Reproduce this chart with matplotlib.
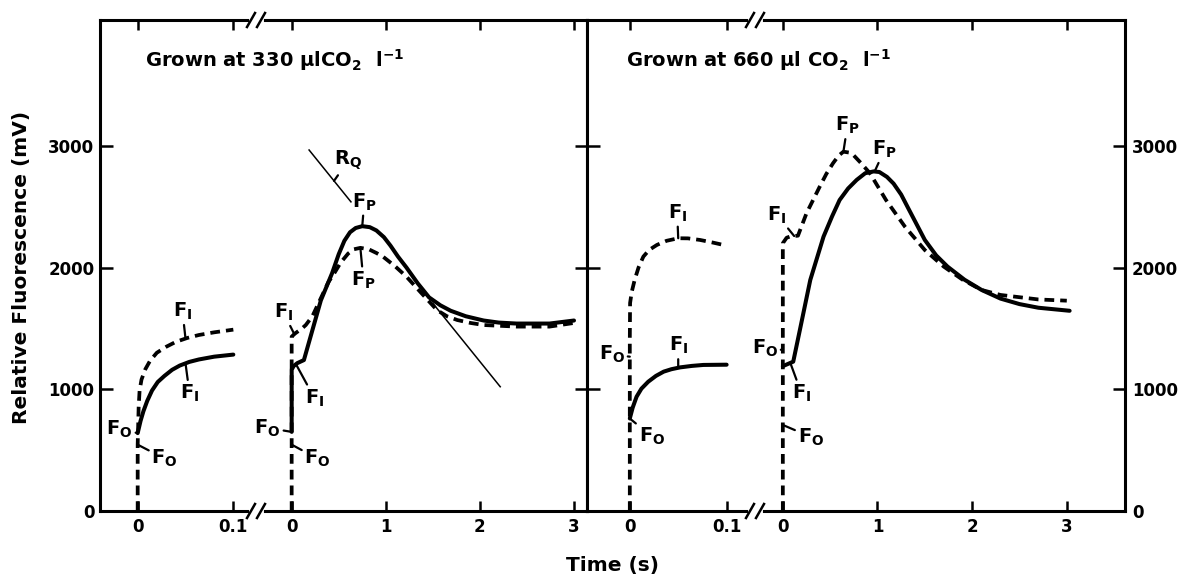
import numpy as np
import matplotlib
matplotlib.use('Agg')
from matplotlib import pyplot as plt
from matplotlib.lines import Line2D

plt.rc('font', family='DejaVu Sans', weight='bold', size=12)
plt.rc('mathtext', fontset='custom', rm='DejaVu Sans:bold',
       it='DejaVu Sans:bold', bf='DejaVu Sans:bold', sf='DejaVu Sans:bold')

# ---- data (time in s, fluorescence in mV) ----
# grown at 330 ul CO2 / l, fast sweep (0 - 0.1 s)
t330_fast_solid = [0, 0.003, 0.006, 0.01, 0.015, 0.021, 0.028, 0.036, 0.044,
                   0.054, 0.064, 0.08, 0.1]
f330_fast_solid = [640, 740, 820, 905, 990, 1060, 1110, 1160, 1195,
                   1225, 1245, 1268, 1285]
t330_fast_dash = [0, 0, 0.001, 0.002, 0.004, 0.008, 0.013, 0.02, 0.03, 0.04,
                  0.052, 0.064, 0.08, 0.1]
f330_fast_dash = [0, 545, 850, 990, 1080, 1165, 1235, 1300, 1350, 1390,
                  1422, 1446, 1468, 1490]
# grown at 330, slow sweep (0 - 3 s)
t330_slow_solid = [0, 0, 0.02, 0.06, 0.13, 0.31, 0.43, 0.50, 0.56, 0.62, 0.68,
                   0.75, 0.83, 0.90, 0.98, 1.05, 1.13, 1.22, 1.34, 1.46, 1.58,
                   1.69, 1.85, 2.04, 2.2, 2.39, 2.74, 3.0]
f330_slow_solid = [650, 1160, 1190, 1215, 1240, 1730, 1955, 2110, 2220, 2290, 2325,
                   2340, 2332, 2305, 2250, 2180, 2090, 2000, 1870, 1755, 1690,
                   1645, 1600, 1565, 1548, 1540, 1540, 1565]
t330_slow_dash = [0, 0, 0.03, 0.06, 0.11, 0.15, 0.22, 0.39, 0.45, 0.52, 0.60,
                  0.66, 0.73, 0.82, 0.90, 0.97, 1.10, 1.22, 1.38, 1.545, 1.65,
                  1.76, 1.9, 2.04, 2.39, 2.74, 3.0]
f330_slow_dash = [0, 1432, 1455, 1472, 1500, 1528, 1600, 1880, 1950, 2040, 2115,
                  2150, 2162, 2150, 2120, 2090, 2010, 1925, 1789, 1650, 1600,
                  1569, 1545, 1528, 1515, 1515, 1545]
# R_Q tangent (two visible pieces)
rq_t = [0.185, 2.216]
rq_f = [2966, 1021]

# grown at 660 ul CO2 / l, fast sweep
t660_fast_solid = [0, 0.003, 0.007, 0.012, 0.019, 0.027, 0.035, 0.043, 0.052,
                   0.064, 0.076, 0.1]
f660_fast_solid = [760, 850, 939, 1005, 1062, 1110, 1145, 1165, 1180,
                   1192, 1200, 1202]
t660_fast_dash = [0, 0, 0.0003, 0.002, 0.005, 0.009, 0.014, 0.02, 0.028, 0.038,
                  0.05, 0.06, 0.0725, 0.086, 0.1]
f660_fast_dash = [0, 1400, 1709, 1800, 1898, 2000, 2090, 2145, 2186, 2220,
                  2241, 2240, 2227, 2205, 2180]
# grown at 660, slow sweep
t660_slow_solid = [0, 0.11, 0.18, 0.29, 0.43, 0.52, 0.60, 0.69, 0.78, 0.87, 0.96,
                   1.02, 1.10, 1.17, 1.25, 1.33, 1.50, 1.62, 1.74, 1.92, 2.10,
                   2.30, 2.50, 2.70, 3.03]
f660_slow_solid = [1190, 1227, 1487, 1898, 2254, 2420, 2555, 2650, 2720, 2775, 2790,
                   2785, 2745, 2690, 2600, 2480, 2227, 2100, 2008, 1900, 1816,
                   1745, 1700, 1670, 1645]
t660_slow_dash = [0, 0, 0.04, 0.08, 0.16, 0.25, 0.39, 0.46, 0.53, 0.59, 0.64, 0.70,
                  0.745, 0.83, 0.92, 1.09, 1.29, 1.50, 1.70, 1.9, 2.10, 2.30,
                  2.70, 3.0]
f660_slow_dash = [0, 2200, 2245, 2256, 2262, 2446, 2665, 2770, 2857, 2920, 2952, 2945,
                  2925, 2855, 2775, 2555, 2336, 2144, 2008, 1900, 1816, 1775,
                  1738, 1728]

yticks = [0, 1000, 2000, 3000]
fast_ticks = [0, 0.1]
slow_ticks = [0, 1, 2, 3]

W, H = 1180, 578
fig = plt.figure(figsize=(W / 100, H / 100), dpi=100)
TOP, BOT = 20, 511


def box(x0, x1):
    return [x0 / W, (H - BOT) / H, (x1 - x0) / W, (BOT - TOP) / H]


ax1 = fig.add_axes(box(100, 256))
ax2 = fig.add_axes(box(256, 587))
ax3 = fig.add_axes(box(587, 755))
ax4 = fig.add_axes(box(755, 1125))
ax1.set_xlim(-0.0394, 0.1237)
ax2.set_xlim(-0.379, 3.138)
ax3.set_xlim(-0.0442, 0.1293)
ax4.set_xlim(-0.294, 3.615)

lw_s, lw_d = 2.9, 2.7
dash = (0, (2.6, 1.6))
solid_kw = dict(c='k', lw=lw_s, solid_capstyle='round', solid_joinstyle='round')
dash_kw = dict(c='k', lw=lw_d, ls=dash, dash_joinstyle='round')
ax1.plot(t330_fast_solid, f330_fast_solid, **solid_kw)
ax1.plot(t330_fast_dash, f330_fast_dash, **dash_kw)
ax2.plot(t330_slow_solid, f330_slow_solid, **solid_kw)
ax2.plot(t330_slow_dash, f330_slow_dash, **dash_kw)
for a, b in [(rq_t[0], 0.63), (1.50, rq_t[1])]:
    ax2.plot([a, b], np.interp([a, b], rq_t, rq_f), c='k', lw=1.1)
ax3.plot(t660_fast_solid, f660_fast_solid, **solid_kw)
ax3.plot(t660_fast_dash, f660_fast_dash, **dash_kw)
ax4.plot(t660_slow_solid, f660_slow_solid, **solid_kw)
ax4.plot(t660_slow_dash, f660_slow_dash, **dash_kw)

for ax in (ax1, ax2, ax3, ax4):
    ax.set_ylim(0, 4034)
    ax.set_yticks(yticks)
    for sp in ax.spines.values():
        sp.set_linewidth(2.2)
    ax.tick_params(which='major', direction='in', width=1.8, labelsize=12, pad=5)
    ax.tick_params(axis='x', length=7.5, top=True, bottom=True)
    ax.tick_params(axis='y', length=9)
for ax in (ax1, ax3):
    ax.set_xticks(fast_ticks, ['0', '0.1'])
    ax.spines['right'].set_visible(False)
for ax in (ax2, ax4):
    ax.set_xticks(slow_ticks, [str(v) for v in slow_ticks])
    ax.spines['left'].set_visible(False)
ax1.tick_params(axis='y', left=True, right=False, labelleft=True, pad=4)
ax2.tick_params(axis='y', left=False, right=True, labelleft=False)
ax3.tick_params(axis='y', left=True, right=False, labelleft=False)
ax4.tick_params(axis='y', left=False, right=True, labelleft=False, labelright=True, pad=5)


def lab(ax, s, xy, dx, dy):
    ax.annotate(s, xy=xy, xytext=(dx, dy), textcoords='offset pixels',
                ha='center', va='center', fontsize=14, annotation_clip=False,
                arrowprops=dict(arrowstyle='-', lw=1.6, color='k',
                                shrinkA=0, shrinkB=0))


FO, FI, FP, RQ = r'$\mathrm{F_O}$', r'$\mathrm{F_I}$', r'$\mathrm{F_P}$', r'$\mathrm{R_Q}$'
# 330, fast
lab(ax1, FO, (0, f330_fast_solid[0]), -18, 4)
lab(ax1, FO, (0, f330_fast_dash[1]), 27, -14)
lab(ax1, FI, (0.05, np.interp(0.05, t330_fast_dash, f330_fast_dash)), -3, 27)
lab(ax1, FI, (0.05, np.interp(0.05, t330_fast_solid, f330_fast_solid)), 4, -30)
# 330, slow
lab(ax2, FO, (0, f330_slow_solid[0]), -24, 4)
lab(ax2, FO, (0, 545), 26, -14)
lab(ax2, FI, (0.03, 1450), -11, 22)
lab(ax2, FI, (0.05, 1200), 18, -33)
lab(ax2, FP, (0.75, np.interp(0.75, t330_slow_solid, f330_slow_solid)), 2, 24)
lab(ax2, FP, (0.73, np.interp(0.73, t330_slow_dash, f330_slow_dash)), 3, -32)
lab(ax2, RQ, (0.45, np.interp(0.45, rq_t, rq_f)), 14, 20)
# 660, fast
lab(ax3, FO, (0, 1268), -18, 2)
lab(ax3, FO, (0, f660_fast_solid[0]), 22, -18)
lab(ax3, FI, (0.05, np.interp(0.05, t660_fast_dash, f660_fast_dash)), -1, 25)
lab(ax3, FI, (0.05, np.interp(0.05, t660_fast_solid, f660_fast_solid)), 0, 22)
# 660, slow
lab(ax4, FO, (0, 1323), -18, 2)
lab(ax4, FO, (0, 707), 28, -12)
lab(ax4, FI, (0.12, np.interp(0.12, t660_slow_dash, f660_slow_dash)), -17, 21)
lab(ax4, FI, (0.08, 1215), 11, -30)
lab(ax4, FP, (0.64, np.interp(0.64, t660_slow_dash, f660_slow_dash)), 4, 26)
lab(ax4, FP, (0.97, np.interp(0.97, t660_slow_solid, f660_slow_solid)), 10, 22)

# axis break marks on top and bottom spines
for xb in (256, 755):
    for yb in (TOP, BOT):
        fy = (H - yb) / H
        fig.add_artist(Line2D([(xb - 5) / W, (xb + 5) / W], [fy, fy],
                              color='white', lw=3.5, zorder=5))
        for off in (-5, 5):
            fig.add_artist(Line2D([(xb + off - 4) / W, (xb + off + 4) / W],
                                  [fy - 7 / H, fy + 7 / H], color='k', lw=1.8, zorder=6))

fig.text(145 / W, 1 - 60 / H, r'Grown at 330 $\mathrm{\mu lCO_2}$  $\mathrm{l^{-1}}$',
         ha='left', va='center', fontsize=14)
fig.text(626 / W, 1 - 60 / H, r'Grown at 660 $\mathrm{\mu l\ CO_2}$  $\mathrm{l^{-1}}$',
         ha='left', va='center', fontsize=14)
fig.text(22 / W, 1 - 267 / H, 'Relative Fluorescence (mV)', rotation=90,
         ha='center', va='center', fontsize=14.5)
fig.text(612 / W, 1 - 566 / H, 'Time (s)', ha='center', va='center', fontsize=14.5)

fig.savefig('out.png', dpi=100)
